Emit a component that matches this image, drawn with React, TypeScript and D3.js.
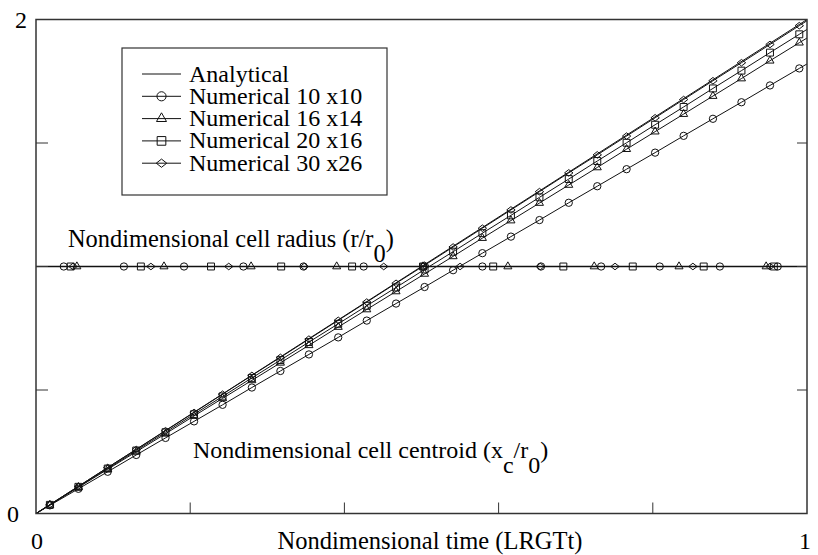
import React from "react";
import * as d3 from "d3";

// ---------- data ----------
const sampleTime = [
  0, 0.018, 0.055, 0.093, 0.13, 0.168, 0.205, 0.242, 0.28, 0.317, 0.354, 0.392, 0.429, 0.467,
  0.504, 0.541, 0.579, 0.616, 0.653, 0.691, 0.728, 0.766, 0.803, 0.84, 0.878, 0.915, 0.952, 0.99, 1,
];
const centroid10x10 = [
  0, 0.033, 0.1, 0.169, 0.237, 0.306, 0.373, 0.44, 0.51, 0.577, 0.644, 0.713, 0.781, 0.85,
  0.917, 0.985, 1.054, 1.121, 1.188, 1.258, 1.325, 1.394, 1.461, 1.529, 1.598, 1.665, 1.733, 1.802, 1.82,
];
const centroid16x14 = [
  0, 0.035, 0.106, 0.179, 0.25, 0.323, 0.395, 0.466, 0.539, 0.61, 0.681, 0.755, 0.826, 0.899,
  0.97, 1.041, 1.115, 1.186, 1.257, 1.33, 1.401, 1.475, 1.546, 1.617, 1.69, 1.761, 1.833, 1.906, 1.925,
];
const centroid20x16 = [
  0, 0.035, 0.108, 0.182, 0.255, 0.329, 0.402, 0.474, 0.549, 0.621, 0.694, 0.768, 0.841, 0.915,
  0.988, 1.06, 1.135, 1.207, 1.28, 1.354, 1.427, 1.501, 1.574, 1.646, 1.721, 1.793, 1.866, 1.94, 1.96,
];
const centroid30x26 = [
  0, 0.036, 0.11, 0.186, 0.259, 0.335, 0.409, 0.483, 0.559, 0.632, 0.706, 0.782, 0.856, 0.932,
  1.005, 1.079, 1.155, 1.229, 1.303, 1.379, 1.452, 1.528, 1.602, 1.676, 1.752, 1.825, 1.899, 1.975, 1.995,
];
const analyticalTime = [0, 1];
const analyticalCentroid = [0, 2];
const analyticalRadius = [1, 1];

const radiusTime10x10 = [0.036, 0.114, 0.192, 0.269, 0.347, 0.425, 0.502, 0.579, 0.655, 0.733, 0.809, 0.887, 0.962];
const radius10x10 = [1, 1, 1, 1, 1, 1, 1, 1, 1, 1, 1, 1, 1];
const radiusTime16x14 = [0.053, 0.166, 0.279, 0.39, 0.502, 0.612, 0.724, 0.834, 0.947];
const radius16x14 = [1, 1, 1, 1, 1, 1, 1, 1, 1];
const radiusTime20x16 = [0.045, 0.136, 0.227, 0.318, 0.41, 0.502, 0.593, 0.684, 0.774, 0.866, 0.957];
const radius20x16 = [1, 1, 1, 1, 1, 1, 1, 1, 1, 1, 1];
const radiusTime30x26 = [0.048, 0.149, 0.25, 0.348, 0.451, 0.55, 0.654, 0.751, 0.852, 0.952];
const radius30x26 = [1, 1, 1, 1, 1, 1, 1, 1, 1, 1];

const seriesNames = ["Analytical", "Numerical 10 x10", "Numerical 16 x14", "Numerical 20 x16", "Numerical 30 x26"];
const xMinorTicks = [0.2, 0.4, 0.6, 0.8];
const yMinorTicks = [0.5, 1, 1.5];
const xTickLabels = [0, 1];
const yTickLabels = [0, 2];

// ---------- layout ----------
const W = 818;
const H = 555;
const L = 36, R = 807, T = 19.5, B = 513.5;
const FONT = "'Liberation Serif', 'Times New Roman', serif";
const INK = "#111";
const FS = 24;
const BOTTOM_BASE = 549;

const x = d3.scaleLinear().domain([0, 1]).range([L, R]);
const y = d3.scaleLinear().domain([0, 2]).range([B, T]);

type Kind = "none" | "circle" | "triangle" | "square" | "diamond";

function markerPath(kind: Kind, s: number): string {
  if (kind === "circle") return d3.symbol(d3.symbolCircle, 42 * s * s)()!;
  if (kind === "square") return d3.symbol(d3.symbolSquare, 48 * s * s)()!;
  if (kind === "triangle") return d3.symbol(d3.symbolTriangle, 28 * s * s)()!;
  if (kind === "diamond") {
    const w = 4.2 * s, h = 3.3 * s;
    return `M${-w},0L0,${-h}L${w},0L0,${h}Z`;
  }
  return "";
}

const numericSeries = [
  { name: seriesNames[1], kind: "circle" as Kind, centroid: centroid10x10, rt: radiusTime10x10, rv: radius10x10 },
  { name: seriesNames[2], kind: "triangle" as Kind, centroid: centroid16x14, rt: radiusTime16x14, rv: radius16x14 },
  { name: seriesNames[3], kind: "square" as Kind, centroid: centroid20x16, rt: radiusTime20x16, rv: radius20x16 },
  { name: seriesNames[4], kind: "diamond" as Kind, centroid: centroid30x26, rt: radiusTime30x26, rv: radius30x26 },
];

const line = d3
  .line<[number, number]>()
  .x((d) => x(d[0]))
  .y((d) => y(d[1]));

export default function App() {
  const legendKinds: Kind[] = ["none", "circle", "triangle", "square", "diamond"];
  const yLabelRight = [19, 27];
  return (
    <svg
      width={W}
      height={H}
      style={{ position: "absolute", left: 0, top: 0, background: "#fff" }}
      fontFamily={FONT}
    >
      <rect x={0} y={0} width={W} height={H} fill="#fff" />
      {/* analytical lines */}
      <path
        d={line(analyticalTime.map((t, i) => [t, analyticalCentroid[i]]))!}
        fill="none"
        stroke={INK}
        strokeWidth={1}
      />
      <path
        d={line(analyticalTime.map((t, i) => [t, analyticalRadius[i]]))!}
        fill="none"
        stroke={INK}
        strokeWidth={1.3}
      />
      {/* numerical series */}
      {numericSeries.map((s) => {
        const cpts = sampleTime.map((t, i) => [t, s.centroid[i]] as [number, number]);
        const rpts = s.rt.map((t, i) => [t, s.rv[i]] as [number, number]);
        const mp = markerPath(s.kind, 1);
        return (
          <g key={s.name}>
            <path d={line(cpts)!} fill="none" stroke={INK} strokeWidth={1} />
            <path d={line(rpts)!} fill="none" stroke={INK} strokeWidth={1} />
            {cpts.slice(1, cpts.length - 1).map((p, i) => (
              <path
                key={"c" + i}
                d={mp}
                transform={`translate(${x(p[0])},${y(p[1])})`}
                fill="none"
                stroke={INK}
                strokeWidth={1}
              />
            ))}
            {rpts.map((p, i) => (
              <path
                key={"r" + i}
                d={mp}
                transform={`translate(${x(p[0])},${y(p[1])})`}
                fill="none"
                stroke={INK}
                strokeWidth={1}
              />
            ))}
          </g>
        );
      })}
      {/* frame */}
      <rect x={L} y={T} width={R - L} height={B - T} fill="none" stroke="#333" strokeWidth={1.5} />
      {xMinorTicks.map((t) => (
        <line key={"xt" + t} x1={x(t)} x2={x(t)} y1={B} y2={B - 11} stroke="#333" strokeWidth={1} />
      ))}
      {yMinorTicks.map((t) => (
        <g key={"yt" + t}>
          <line x1={L} x2={L + 12} y1={y(t)} y2={y(t)} stroke="#333" strokeWidth={1} />
          <line x1={R} x2={R - 10} y1={y(t)} y2={y(t)} stroke="#333" strokeWidth={1} />
        </g>
      ))}
      {/* tick labels */}
      {xTickLabels.map((t) => (
        <text key={"xl" + t} x={x(t) + (t === 1 ? -2 : 1)} y={BOTTOM_BASE} fontSize={FS} textAnchor="middle" fill="#000">
          {t}
        </text>
      ))}
      {yTickLabels.map((t, i) => (
        <text key={"yl" + t} x={yLabelRight[i]} y={y(t) + 8} fontSize={FS} textAnchor="end" fill="#000">
          {t}
        </text>
      ))}
      {/* axis title */}
      <text x={430} y={BOTTOM_BASE} fontSize={24.5} textAnchor="middle" fill="#000">
        Nondimensional time (LRGTt)
      </text>
      {/* annotations */}
      <text x={68} y={247} fontSize={24.4} fill="#000">
        Nondimensional cell radius (r/r
        <tspan dy={15}>0</tspan>
        <tspan dy={-15}>)</tspan>
      </text>
      <text x={193} y={458} fontSize={FS} fill="#000">
        Nondimensional cell centroid (x
        <tspan dy={15}>c</tspan>
        <tspan dy={-15}>/r</tspan>
        <tspan dy={15}>0</tspan>
        <tspan dy={-15}>)</tspan>
      </text>
      {/* legend */}
      <g>
        <rect x={122} y={48} width={265} height={147} fill="#fff" stroke="#333" strokeWidth={1.2} />
        {seriesNames.map((n, i) => {
          const cy = 74 + i * 22.3;
          const k = legendKinds[i];
          return (
            <g key={n}>
              <line x1={142} x2={181} y1={cy} y2={cy} stroke={INK} strokeWidth={1} />
              {k !== "none" && (
                <path
                  d={markerPath(k, 1.25)}
                  transform={`translate(161.5,${cy})`}
                  fill="none"
                  stroke={INK}
                  strokeWidth={1}
                />
              )}
              <text x={189} y={cy + 7.5} fontSize={FS} fill="#000">
                {n}
              </text>
            </g>
          );
        })}
      </g>
    </svg>
  );
}
